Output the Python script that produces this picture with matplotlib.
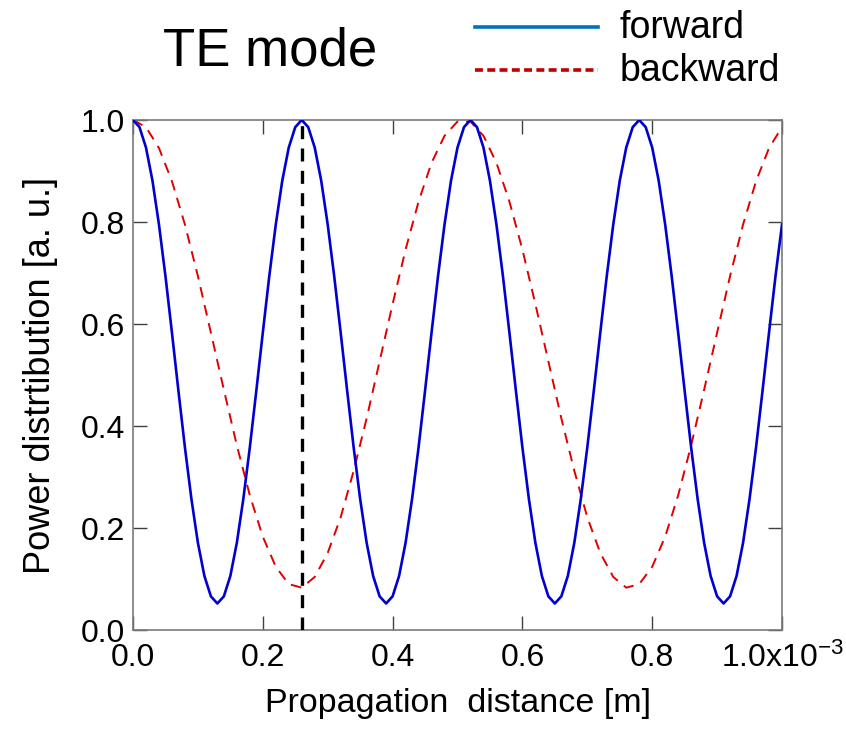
import matplotlib
matplotlib.use("Agg")
import matplotlib.pyplot as plt
from matplotlib.lines import Line2D

plt.rcParams['font.family'] = ['Liberation Sans', 'DejaVu Sans']
plt.rcParams['mathtext.fontset'] = 'custom'
plt.rcParams['mathtext.rm'] = 'Liberation Sans'
plt.rcParams['mathtext.it'] = 'Liberation Sans'
plt.rcParams['mathtext.bf'] = 'Liberation Sans'

# ---- data (propagation distance in units of 1e-3 m) ----
x_forward = [i * 0.01 for i in range(101)]
forward = [1.000, 0.986, 0.946, 0.881, 0.795, 0.694, 0.583, 0.469, 0.358, 0.257,
           0.171, 0.106, 0.066, 0.052, 0.066, 0.106, 0.171, 0.257, 0.358, 0.469,
           0.583, 0.694, 0.795, 0.881, 0.946, 0.986,
           1.000, 0.986, 0.946, 0.881, 0.795, 0.694, 0.583, 0.469, 0.358, 0.257,
           0.171, 0.106, 0.066, 0.052, 0.066, 0.106, 0.171, 0.257, 0.358, 0.469,
           0.583, 0.694, 0.795, 0.881, 0.946, 0.986,
           1.000, 0.986, 0.946, 0.881, 0.795, 0.694, 0.583, 0.469, 0.358, 0.257,
           0.171, 0.106, 0.066, 0.052, 0.066, 0.106, 0.171, 0.257, 0.358, 0.469,
           0.583, 0.694, 0.795, 0.881, 0.946, 0.986,
           1.000, 0.986, 0.946, 0.881, 0.795, 0.694, 0.583, 0.469, 0.358, 0.257,
           0.171, 0.106, 0.066, 0.052, 0.066, 0.106, 0.171, 0.257, 0.358, 0.469,
           0.583, 0.694, 0.795]

x_backward = [i * 0.02 for i in range(51)]
backward = [1.000, 0.986, 0.945, 0.880, 0.795, 0.694, 0.583, 0.471, 0.362, 0.264,
            0.183, 0.124, 0.090, 0.083, 0.104, 0.151, 0.221, 0.312, 0.415, 0.527,
            0.639, 0.746, 0.840, 0.916, 0.969, 0.997, 0.997, 0.969, 0.916, 0.840,
            0.746, 0.639, 0.527, 0.415, 0.312, 0.221, 0.151, 0.104, 0.083, 0.090,
            0.124, 0.183, 0.264, 0.362, 0.471, 0.583, 0.694, 0.795, 0.880, 0.945,
            0.986]

marker_x = 0.26
x_ticks = [0.0, 0.2, 0.4, 0.6, 0.8, 1.0]
x_tick_labels = ['0.0', '0.2', '0.4', '0.6', '0.8', '1.0x10$^{-3}$']
y_ticks = [0.0, 0.2, 0.4, 0.6, 0.8, 1.0]
y_tick_labels = ['0.0', '0.2', '0.4', '0.6', '0.8', '1.0']
series_names = ['forward', 'backward']

W, H = 846, 733
fig = plt.figure(figsize=(W / 100, H / 100), dpi=100)
ax = fig.add_axes([133 / W, 1 - 630 / H, (782 - 133) / W, (630 - 120) / H])

ax.plot(x_forward, forward, color='#0000D0', lw=1.9, zorder=3)
ax.plot(x_backward, backward, color='#E00000', lw=1.4, linestyle=(0, (5.5, 4)), zorder=2)
ax.vlines(marker_x, 0, 1, colors='black', lw=2.4, linestyles=(0, (3.9, 2.8)), zorder=4)

ax.set_xlim(0, 1.0)
ax.set_ylim(0, 1.0)
ax.set_xticks(x_ticks)
ax.set_xticklabels(x_tick_labels)
ax.set_yticks(y_ticks)
ax.set_yticklabels(y_tick_labels)
ax.tick_params(direction='in', length=10, width=1.0, color='#404040',
               labelsize=23, top=True, right=True, pad=6)
ax.tick_params(axis='x', pad=9)
for sp in ax.spines.values():
    sp.set_color('#7a7a7a')
    sp.set_linewidth(1.2)

ax.set_xlabel('Propagation  distance [m]', fontsize=24.5, labelpad=10)
ax.set_ylabel('Power distrtibution [a. u.]', fontsize=26, labelpad=16)

fig.text(270 / W, 1 - 52 / H, 'TE mode', fontsize=38, ha='center', va='center')

# legend drawn manually
leg_colors = ['#0070C0', '#C00000']
leg_styles = ['-', (0, (2.2, 1.2))]
leg_y = [27, 70]
for name, c, ls, yy in zip(series_names, leg_colors, leg_styles, leg_y):
    fig.add_artist(Line2D([475 / W, 598 / W], [1 - yy / H, 1 - yy / H],
                          color=c, lw=2.6, linestyle=ls, transform=fig.transFigure))
    fig.text(620 / W, 1 - (yy + 1) / H, name, fontsize=27, ha='left', va='center')

fig.savefig('out.png', dpi=100)
